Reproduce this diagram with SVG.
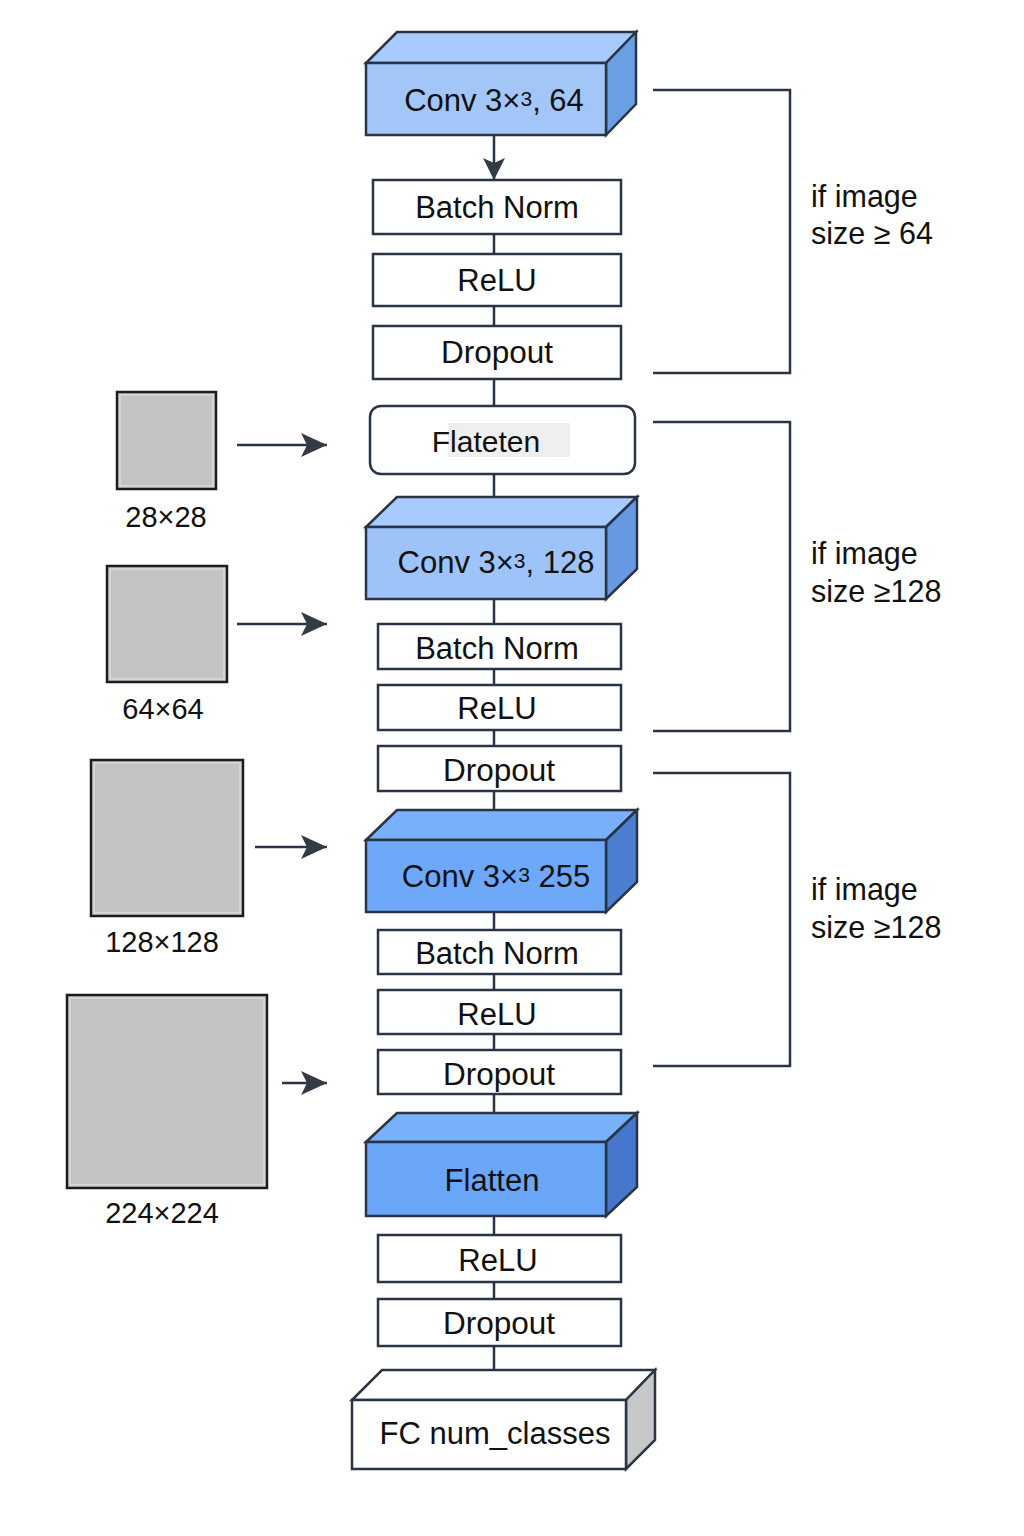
<svg xmlns="http://www.w3.org/2000/svg" width="1024" height="1536" viewBox="0 0 1024 1536">
<defs>
<style>
.box{fill:#ffffff;stroke:#2b3444;stroke-width:2.5}
.ln{fill:none;stroke:#2b3444;stroke-width:2.5}
.br{fill:none;stroke:#2b3444;stroke-width:2.5}
.t{font-family:"Liberation Sans",Arial,sans-serif;fill:#111111;text-anchor:middle}
.lab{font-family:"Liberation Sans",Arial,sans-serif;fill:#111111;font-size:30.5px}
.sq{fill:#c3c3c3;stroke:#1c1c1c;stroke-width:2.5}
.sqi{fill:none;stroke:#e6e6e6;stroke-width:1}
.edge{stroke:#2b3444}
.sm{font-size:21px}
</style>
<marker id="ah" markerUnits="userSpaceOnUse" markerWidth="26" markerHeight="26" viewBox="0 0 26 26" refX="26" refY="13" orient="auto">
<path d="M0,1 L26,13 L0,25 L6,13 Z" fill="#353b46"/>
</marker>
<marker id="ahd" markerUnits="userSpaceOnUse" markerWidth="22" markerHeight="22" viewBox="0 0 22 22" refX="22" refY="11" orient="auto">
<path d="M0,0 L22,11 L0,22 L5,11 Z" fill="#353b46"/>
</marker>
</defs>
<rect width="1024" height="1536" fill="#ffffff"/>

<g id="connectors">
<line class="ln" x1="494" y1="135" x2="494" y2="180" marker-end="url(#ahd)"/>
<line class="ln" x1="494" y1="234" x2="494" y2="254"/>
<line class="ln" x1="494" y1="306" x2="494" y2="326"/>
<line class="ln" x1="494" y1="379" x2="494" y2="406"/>
<line class="ln" x1="494" y1="474" x2="494" y2="527"/>
<line class="ln" x1="494" y1="599" x2="494" y2="624"/>
<line class="ln" x1="494" y1="669" x2="494" y2="685"/>
<line class="ln" x1="494" y1="730" x2="494" y2="746"/>
<line class="ln" x1="494" y1="791" x2="494" y2="840"/>
<line class="ln" x1="494" y1="912" x2="494" y2="930"/>
<line class="ln" x1="494" y1="974" x2="494" y2="990"/>
<line class="ln" x1="494" y1="1034" x2="494" y2="1050"/>
<line class="ln" x1="494" y1="1094" x2="494" y2="1142"/>
<line class="ln" x1="494" y1="1216" x2="494" y2="1235"/>
<line class="ln" x1="494" y1="1282" x2="494" y2="1299"/>
<line class="ln" x1="494" y1="1346" x2="494" y2="1400"/>
<line class="ln" x1="237" y1="445" x2="327" y2="445" marker-end="url(#ah)"/>
<line class="ln" x1="237" y1="624" x2="327" y2="624" marker-end="url(#ah)"/>
<line class="ln" x1="255" y1="847" x2="327" y2="847" marker-end="url(#ah)"/>
<line class="ln" x1="282" y1="1083" x2="327" y2="1083" marker-end="url(#ah)"/>
<polyline class="br" points="653,90 790,90 790,373 653,373"/>
<polyline class="br" points="653,422 790,422 790,731 653,731"/>
<polyline class="br" points="653,773 790,773 790,1066 653,1066"/>
</g>

<g id="conv64">
<polygon points="366,63 397,32 636,32 606,63" fill="#a8cbff" class="edge" stroke-width="2.5"/>
<polygon points="606,63 636,32 636,104 606,135" fill="#6b9fe3" class="edge" stroke-width="2.5"/>
<rect x="366" y="63" width="240" height="72" fill="#a3c6f8" class="edge" stroke-width="2.5"/>
<text class="t" x="494" y="111" font-size="31">Conv 3×<tspan class="sm" dy="-5">3</tspan><tspan dy="5">, 64</tspan></text>
</g>
<g id="bn1"><rect class="box" x="373" y="180" width="248" height="54"/><text class="t" x="497" y="218" font-size="31">Batch Norm</text></g>
<g id="relu1"><rect class="box" x="373" y="254" width="248" height="52"/><text class="t" x="497" y="291" font-size="31">ReLU</text></g>
<g id="drop1"><rect class="box" x="373" y="326" width="248" height="53"/><text class="t" x="497" y="363" font-size="31.5">Dropout</text></g>

<g id="flateten">
<rect class="box" x="370" y="406" width="265" height="68" rx="11"/>
<rect x="448" y="423" width="122" height="34" fill="#efefef"/>
<text class="t" x="486" y="452" font-size="30">Flateten</text>
</g>

<g id="conv128">
<polygon points="366,527 397,497 637,497 606,527" fill="#a8cbff" class="edge" stroke-width="2.5"/>
<polygon points="606,527 637,497 637,569 606,599" fill="#6799e2" class="edge" stroke-width="2.5"/>
<rect x="366" y="527" width="240" height="72" fill="#9ec3f8" class="edge" stroke-width="2.5"/>
<text class="t" x="496" y="573" font-size="31">Conv 3×<tspan class="sm" dy="-5">3</tspan><tspan dy="5">, 128</tspan></text>
</g>
<g id="bn2"><rect class="box" x="378" y="624" width="243" height="45"/><text class="t" x="497" y="659" font-size="31">Batch Norm</text></g>
<g id="relu2"><rect class="box" x="378" y="685" width="243" height="45"/><text class="t" x="497" y="719" font-size="31">ReLU</text></g>
<g id="drop2"><rect class="box" x="378" y="746" width="243" height="45"/><text class="t" x="499" y="781" font-size="31.5">Dropout</text></g>

<g id="conv255">
<polygon points="366,840 397,810 637,810 606,840" fill="#78b0fa" class="edge" stroke-width="2.5"/>
<polygon points="606,840 637,810 637,882 606,912" fill="#4a7fd2" class="edge" stroke-width="2.5"/>
<rect x="366" y="840" width="240" height="72" fill="#6ea8f8" class="edge" stroke-width="2.5"/>
<text class="t" x="496" y="887" font-size="31">Conv 3×<tspan class="sm" dy="-5">3</tspan><tspan dy="5"> 255</tspan></text>
</g>
<g id="bn3"><rect class="box" x="378" y="930" width="243" height="44"/><text class="t" x="497" y="964" font-size="31">Batch Norm</text></g>
<g id="relu3"><rect class="box" x="378" y="990" width="243" height="44"/><text class="t" x="497" y="1025" font-size="31">ReLU</text></g>
<g id="drop3"><rect class="box" x="378" y="1050" width="243" height="44"/><text class="t" x="499" y="1085" font-size="31.5">Dropout</text></g>

<g id="flatten">
<polygon points="366,1142 397,1113 637,1113 606,1142" fill="#78b0fa" class="edge" stroke-width="2.5"/>
<polygon points="606,1142 637,1113 637,1187 606,1216" fill="#4677cc" class="edge" stroke-width="2.5"/>
<rect x="366" y="1142" width="240" height="74" fill="#6aa6f7" class="edge" stroke-width="2.5"/>
<text class="t" x="492" y="1191" font-size="31">Flatten</text>
</g>
<g id="relu4"><rect class="box" x="378" y="1235" width="243" height="47"/><text class="t" x="498" y="1271" font-size="31">ReLU</text></g>
<g id="drop4"><rect class="box" x="378" y="1299" width="243" height="47"/><text class="t" x="499" y="1334" font-size="31.5">Dropout</text></g>

<g id="fc">
<polygon points="352,1400 382,1370 655,1370 626,1400" fill="#ffffff" class="edge" stroke-width="2.5"/>
<polygon points="626,1400 655,1370 655,1440 626,1469" fill="#c8c8c8" class="edge" stroke-width="2.5"/>
<rect x="352" y="1400" width="274" height="69" fill="#ffffff" class="edge" stroke-width="2.5"/>
<text class="t" x="495" y="1444" font-size="31">FC num_classes</text>
</g>

<g id="cond1"><text class="lab" x="811" y="207">if image</text><text class="lab" x="811" y="244">size ≥ 64</text></g>
<g id="cond2"><text class="lab" x="811" y="564">if image</text><text class="lab" x="811" y="602">size ≥128</text></g>
<g id="cond3"><text class="lab" x="811" y="900">if image</text><text class="lab" x="811" y="938">size ≥128</text></g>

<g id="img28">
<rect class="sq" x="117" y="392" width="99" height="97"/>
<rect class="sqi" x="120" y="395" width="93" height="91"/>
<text class="t" x="166" y="527" font-size="29">28×28</text>
</g>
<g id="img64">
<rect class="sq" x="107" y="566" width="120" height="116"/>
<rect class="sqi" x="110" y="569" width="114" height="110"/>
<text class="t" x="163" y="719" font-size="29">64×64</text>
</g>
<g id="img128">
<rect class="sq" x="91" y="760" width="152" height="156"/>
<rect class="sqi" x="94" y="763" width="146" height="150"/>
<text class="t" x="162" y="952" font-size="29">128×128</text>
</g>
<g id="img224">
<rect class="sq" x="67" y="995" width="200" height="193"/>
<rect class="sqi" x="70" y="998" width="194" height="187"/>
<text class="t" x="162" y="1223" font-size="29">224×224</text>
</g>
</svg>
